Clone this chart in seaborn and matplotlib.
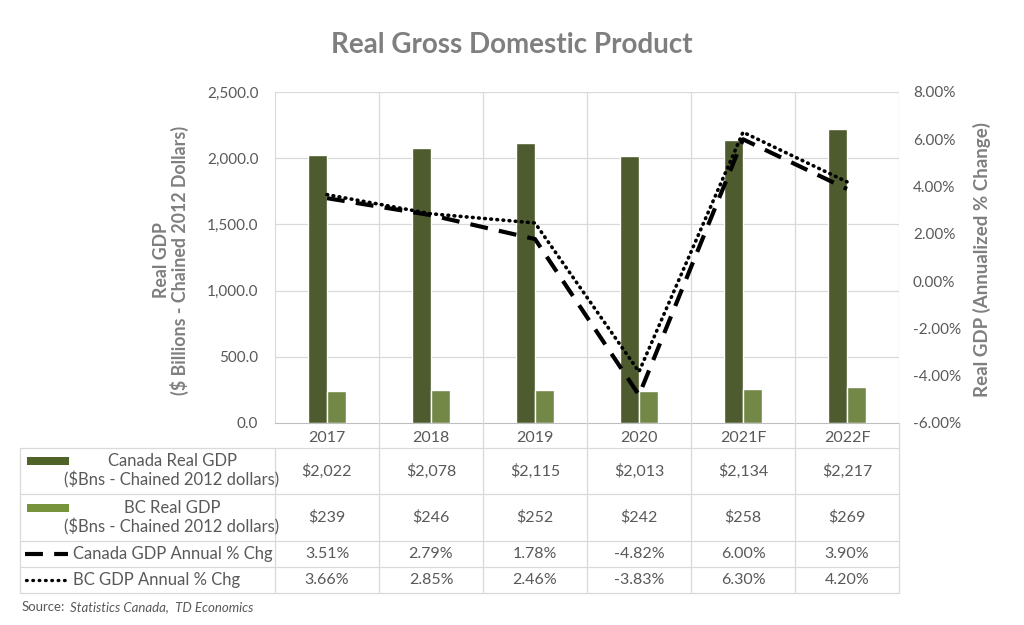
import pandas as pd
import matplotlib.pyplot as plt
import numpy as np
import seaborn as sns

# Data
years = ['2017', '2018', '2019', '2020', '2021F', '2022F']
canada_gdp = [2022, 2078, 2115, 2013, 2134, 2217]
bc_gdp = [239, 246, 252, 242, 258, 269]
canada_chg = [3.51, 2.79, 1.78, -4.82, 6.00, 3.90]
bc_chg = [3.66, 2.85, 2.46, -3.83, 6.30, 4.20]

dark_green = '#4f6228'
light_green = '#77933c'
text_gray = '#595959'
label_gray = '#7f7f7f'
grid_gray = '#d9d9d9'

sns.set_style('white')
plt.rcParams['font.family'] = ['Lato', 'DejaVu Sans']

W, H = 1024, 625
fig = plt.figure(figsize=(W / 100, H / 100), dpi=100)

# pixel geometry
px_left, px_right, px_top, px_bot = 275, 899, 92, 423
tab_bot = 593
cat_w = (px_right - px_left) / 6

ax = fig.add_axes([px_left / W, 1 - px_bot / H, (px_right - px_left) / W, (px_bot - px_top) / H])

bars = pd.DataFrame({
    'year': years * 2,
    'gdp': canada_gdp + bc_gdp,
    'series': ['Canada'] * 6 + ['BC'] * 6,
})
sns.barplot(data=bars, x='year', y='gdp', hue='series', order=years,
            palette=[dark_green, light_green], width=0.37, gap=0,
            legend=False, ax=ax, zorder=2)
ax.set_ylim(0, 2500)
ax.set_xlim(-0.5, 5.5)
ax.set_yticks(np.arange(0, 2501, 500))
ax.set_yticklabels([f'{v:,.1f}' for v in np.arange(0, 2501, 500)])
ax.set_xlabel('')
ax.set_ylabel('')
ax.tick_params(axis='both', length=0, labelsize=11, colors=text_gray)
ax.tick_params(axis='y', pad=12)
ax.tick_params(axis='x', pad=6, labelsize=11.5)
for y in np.arange(500, 2501, 500):
    ax.axhline(y, color=grid_gray, lw=0.9, zorder=0)
for x in np.arange(0.5, 5.6, 1):
    ax.axvline(x, color=grid_gray, lw=0.9, zorder=0)
for s in ['top', 'right']:
    ax.spines[s].set_visible(False)
ax.spines['left'].set_color(grid_gray)
ax.spines['bottom'].set_color('#bfbfbf')

# Percent change lines
ax2 = ax.twinx()
sns.lineplot(x=years, y=canada_chg, ax=ax2, color='black', linewidth=3,
             linestyle=(0, (4.3, 2.7)), sort=False)
sns.lineplot(x=years, y=bc_chg, ax=ax2, color='black', linewidth=2.6,
             linestyle=(0, (0.2, 1.5)), dash_capstyle='round', sort=False)
ax2.set_ylim(-6, 8)
ax2.set_yticks(np.arange(-6, 8.1, 2))
ax2.set_yticklabels([f'{v:.2f}%' for v in np.arange(-6, 8.1, 2)])
ax2.tick_params(axis='y', length=0, labelsize=11, colors=text_gray, pad=10)
ax2.set_ylabel('')
for s in ax2.spines.values():
    s.set_visible(False)
ax2.set_xlim(-0.5, 5.5)

# Titles and axis labels
fig.text(0.5, 1 - 45 / H, 'Real Gross Domestic Product', ha='center', va='center',
         fontsize=20, fontweight='bold', color=label_gray)
fig.text(171 / W, 1 - 260 / H, 'Real GDP\n($ Billions - Chained 2012 Dollars)',
         rotation=90, ha='center', va='center', fontsize=12.8, fontweight='bold',
         color=label_gray, multialignment='center', linespacing=1.05)
fig.text(982 / W, 1 - 260 / H, 'Real GDP (Annualized % Change)',
         rotation=90, ha='center', va='center', fontsize=13.5, fontweight='bold',
         color=label_gray)

# Data table
axt = fig.add_axes([px_left / W, 1 - tab_bot / H, (px_right - px_left) / W, (tab_bot - px_bot) / H])
axt.set_xlim(-0.5, 5.5)
axt.set_ylim(tab_bot, px_bot)
axt.axis('off')


def px_to_x(px):
    return -0.5 + (px - px_left) / cat_w


x_tab_left = px_to_x(20)
row_edges = [448, 494, 541, 567, 593]
for y in row_edges:
    axt.plot([x_tab_left, 5.5], [y, y], color=grid_gray, lw=0.9, clip_on=False)
for x in [x_tab_left, -0.5]:
    axt.plot([x, x], [448, 593], color=grid_gray, lw=0.9, clip_on=False)
for x in np.arange(0.5, 5.6, 1):
    axt.plot([x, x], [px_bot, 593], color=grid_gray, lw=0.9, clip_on=False)

row_vals = [
    [f'${v:,}' for v in canada_gdp],
    [f'${v:,}' for v in bc_gdp],
    [f'{v:.2f}%' for v in canada_chg],
    [f'{v:.2f}%' for v in bc_chg],
]
row_mid = [(row_edges[i] + row_edges[i + 1]) / 2 for i in range(4)]
for r, vals in enumerate(row_vals):
    for i, v in enumerate(vals):
        axt.text(i, row_mid[r], v, ha='center', va='center', fontsize=11.5, color=text_gray)

# row labels
xl0, xl1 = px_to_x(27), px_to_x(69)
axt.fill_between([xl0, xl1], 457, 465, color=dark_green, lw=0, clip_on=False)
axt.fill_between([xl0, xl1], 504, 512, color=light_green, lw=0, clip_on=False)
axt.text(px_to_x(172), row_mid[0], 'Canada Real GDP\n($Bns - Chained 2012 dollars)',
         ha='center', va='center', fontsize=12, color=text_gray, multialignment='center',
         linespacing=1.15)
axt.text(px_to_x(172), row_mid[1], 'BC Real GDP\n($Bns - Chained 2012 dollars)',
         ha='center', va='center', fontsize=12, color=text_gray, multialignment='center',
         linespacing=1.15)
axt.plot([px_to_x(25), px_to_x(68)], [row_mid[2]] * 2, color='black', lw=3,
         linestyle=(0, (4.3, 2.7)), clip_on=False)
axt.plot([px_to_x(26), px_to_x(68)], [row_mid[3]] * 2, color='black', lw=2.4,
         linestyle=(0, (0.2, 1.7)), dash_capstyle='round', clip_on=False)
axt.text(px_to_x(73), row_mid[2], 'Canada GDP Annual % Chg', ha='left', va='center',
         fontsize=12, color=text_gray)
axt.text(px_to_x(73), row_mid[3], 'BC GDP Annual % Chg', ha='left', va='center',
         fontsize=12, color=text_gray)

# Source
fig.text(22 / W, 1 - 607 / H, 'Source:', ha='left', va='center', fontsize=9.5,
         color=text_gray)
fig.text(70 / W, 1 - 607 / H, 'Statistics Canada,  TD Economics', ha='left', va='center',
         fontsize=9.5, color=text_gray, style='italic')

fig.savefig('out.png', dpi=100, facecolor='white')
